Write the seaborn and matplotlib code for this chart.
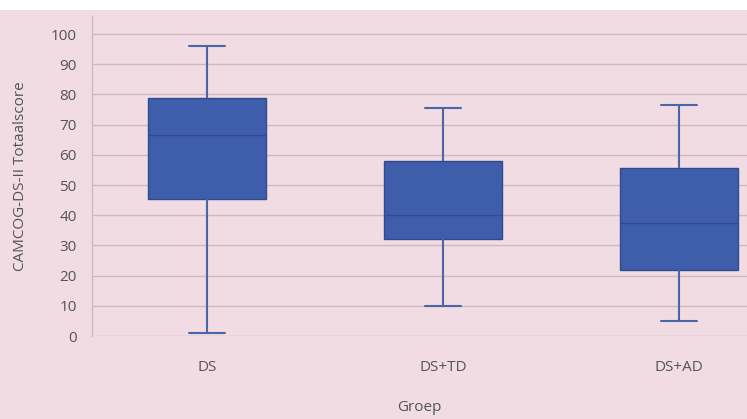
import numpy as np
import pandas as pd
import seaborn as sns
import matplotlib.pyplot as plt
from matplotlib.patches import Rectangle

# box summary: min, Q1, median, Q3, max
groups = ['DS', 'DS+TD', 'DS+AD']
mins = [1.0, 10.0, 5.0]
q1s = [45.5, 32.0, 22.0]
medians = [66.5, 40.0, 37.5]
q3s = [79.0, 58.0, 55.5]
maxs = [96.0, 75.5, 76.5]
y_ticks = list(range(0, 101, 10))

# five points per group reproduce those stats exactly with whis=(0, 100)
rows = []
for g, a, b, c, d, e in zip(groups, mins, q1s, medians, q3s, maxs):
    for v in (a, b, c, d, e):
        rows.append({'Groep': g, 'score': v})
df = pd.DataFrame(rows)

sns.set_theme(style='white')
plt.rcParams['font.family'] = ['Open Sans', 'DejaVu Sans']

pink = '#F2DCE4'
fill = '#3E5DAB'
edge = '#2F4A8E'
text_col = '#545454'

fig = plt.figure(figsize=(7.47, 4.19), dpi=100, facecolor='white')
fig.patches.append(Rectangle((0, 0), 1, 1 - 10 / 419, transform=fig.transFigure,
                             facecolor=pink, edgecolor='none', zorder=-10))
ax = fig.add_axes([92 / 747, 1 - 336 / 419, 1 - 92 / 747, (336 - 16) / 419])
ax.set_facecolor(pink)

sns.boxplot(data=df, x='Groep', y='score', order=groups, ax=ax, whis=(0, 100),
            width=0.5, color=fill, saturation=1, linewidth=1.0, fliersize=0,
            boxprops={'facecolor': fill, 'edgecolor': edge, 'linewidth': 1.0},
            medianprops={'color': edge, 'linewidth': 1.0},
            whiskerprops={'color': '#4A66A6', 'linewidth': 1.5},
            capprops={'color': '#4A66A6', 'linewidth': 1.5},
            capwidths=0.15)

ax.set_ylim(0, 106)
ax.set_xlim(-0.487, 2.288)
ax.set_yticks(y_ticks)
ax.yaxis.grid(True, color='#CDB9C1', linewidth=1.0)
ax.set_axisbelow(True)
for s in ['top', 'right', 'bottom']:
    ax.spines[s].set_visible(False)
ax.spines['left'].set_color('#CDB9C1')
ax.spines['left'].set_linewidth(1.0)
ax.tick_params(axis='both', length=0, labelsize=11, colors=text_col)
ax.tick_params(axis='y', pad=11)
ax.tick_params(axis='x', pad=17)
ax.set_xlabel('Groep', fontsize=11, color=text_col, labelpad=18)
ax.set_ylabel('CAMCOG-DS-II Totaalscore', fontsize=11, color=text_col, labelpad=16)

fig.savefig('out.png', dpi=100, facecolor=fig.get_facecolor())
